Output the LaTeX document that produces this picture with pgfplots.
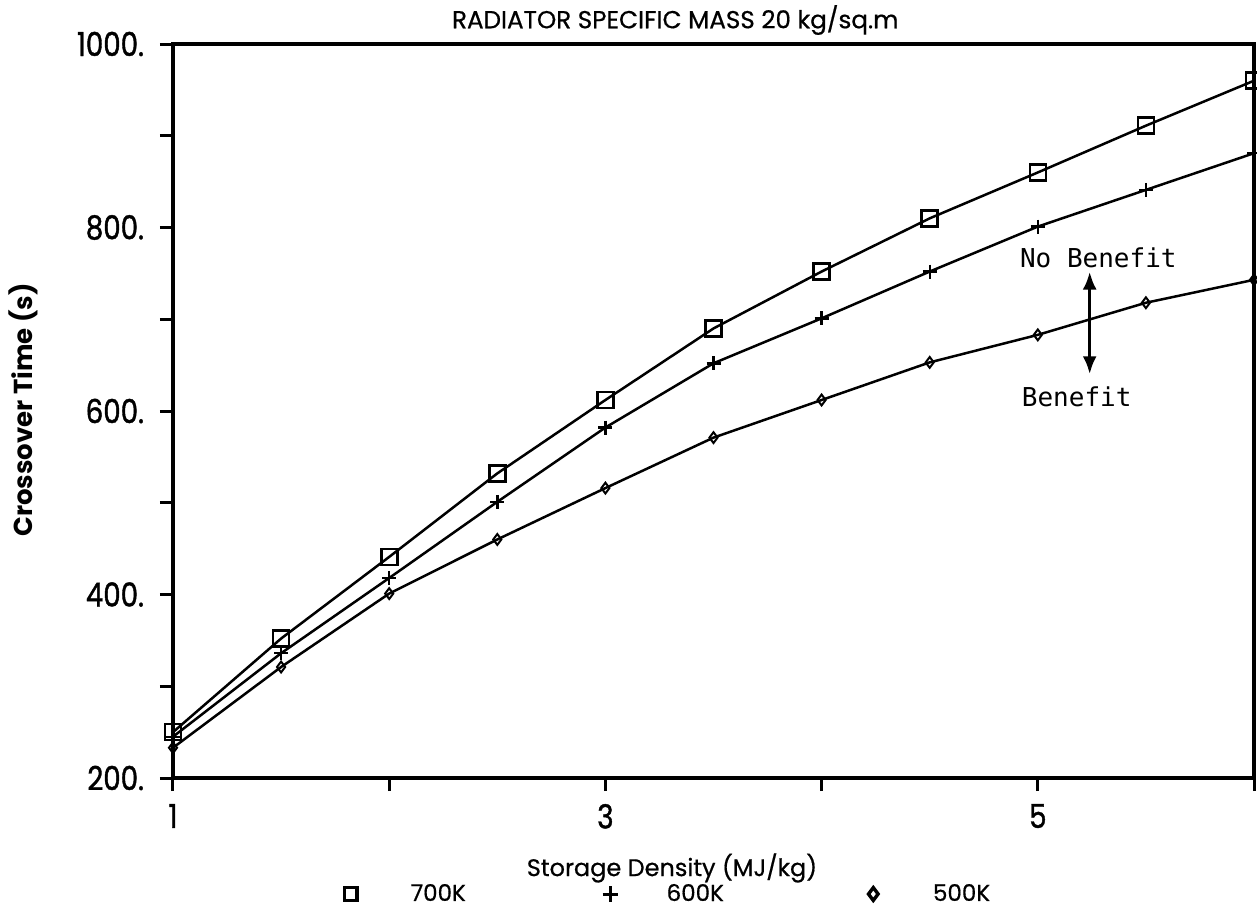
\documentclass[border=0pt]{standalone}
\usepackage{fontspec}
\usepackage{pgfplots}
\pgfplotsset{compat=1.18}
\usetikzlibrary{arrows.meta}
\setmainfont{Poppins}
\newfontfamily\tickfont{Poppins}[FakeStretch=0.84, FakeBold=1.2]
\newfontfamily\labelfont{Poppins}[FakeBold=0.6]
\newfontfamily\monofont{DejaVu Sans Mono}

\begin{document}
\begin{tikzpicture}[x=1pt,y=1pt]
\useasboundingbox (-86.5,-64.5) rectangle (542,389);
\begin{axis}[
  at={(0,0)}, anchor=south west, scale only axis,
  width=540.5pt, height=367pt,
  xmin=1, xmax=6, ymin=200, ymax=1000,
  axis line style={line width=1.6pt},
  xtick={1,2,3,4,5,6}, xticklabels={1,,3,,5,},
  ytick={200,300,...,1000}, yticklabels={200.,,400.,,600.,,800.,,1000.},
  tick align=outside, xtick pos=bottom, ytick pos=left,
  major tick length=6.5pt,
  tick style={line width=1.5pt, black},
  ticklabel style={font=\tickfont\fontsize{16.5}{16.5}\selectfont},
  yticklabel style={xshift=-4.5pt},
  xticklabel style={yshift=-3pt},
  /pgf/number format/assume math mode=true,
  clip=false,
  legend columns=3,
  legend image code/.code={\path (-8pt,0pt) (8pt,0pt); \draw[#1] plot coordinates {(0pt,0pt)};},
  legend style={draw=none, fill=none, inner sep=0pt, outer sep=0pt,
    nodes={inner sep=0pt, outer sep=0pt},
    font=\labelfont\fontsize{11.5}{12}\selectfont,
    at={(axis description cs:0,0)}, anchor=west, xshift=80pt, yshift=-58pt,
    /tikz/column sep=0pt},
]
\addlegendimage{only marks, mark=square, mark size=3.2pt, line width=1.8pt}
\addlegendentry{\makebox[112pt][l]{\hspace{21pt}700K}}
\addlegendimage{only marks, mark=+, mark size=3.8pt, line width=1.5pt}
\addlegendentry{\makebox[114pt][l]{\hspace{19.5pt}600K}}
\addlegendimage{only marks, mark=diamond, mark size=3.2pt, line width=1.7pt}
\addlegendentry{\hspace{21pt}500K}

\addplot[black, line width=1.25pt, mark=square, mark size=4pt, mark options={fill=white, line width=1.3pt}, forget plot] coordinates {
(1,250) (1.5,352) (2,441) (2.5,532) (3,612) (3.5,690) (4,752) (4.5,810) (5,860) (5.5,911) (6,960)};
\addplot[black, line width=1.25pt, mark=+, mark size=3.5pt, mark options={line width=1.2pt}, forget plot] coordinates {
(1,245) (1.5,336) (2,418) (2.5,501) (3,582) (3.5,652) (4,701) (4.5,752) (5,801) (5.5,841) (6,881)};
\addplot[black, line width=1.25pt, mark=diamond, mark size=2.7pt, mark options={fill=white, line width=1.0pt}, forget plot] coordinates {
(1,233) (1.5,321) (2,401) (2.5,460) (3,516) (3.5,571) (4,612) (4.5,653) (5,683) (5.5,718) (6,743)};

\node[font=\monofont\fontsize{13}{13}\selectfont] at (axis cs:5.28,767) {No Benefit};
\node[font=\monofont\fontsize{13}{13}\selectfont] at (axis cs:5.18,616) {Benefit};
\draw[{Latex[length=9pt,width=7pt]}-{Latex[length=9pt,width=7pt]}, line width=1.8pt] (axis cs:5.24,752) -- (axis cs:5.24,640);
\end{axis}
\node[anchor=west, font=\labelfont\fontsize{12.3}{13}\selectfont] at (136,379) {RADIATOR SPECIFIC MASS 20 kg/sq.m};
\node[font=\labelfont\fontsize{12}{13}\selectfont] at (249.5,-45) {Storage Density (MJ/kg)};
\node[rotate=90, font=\bfseries\fontsize{13}{14}\selectfont] at (-75,184) {Crossover Time (s)};
\end{tikzpicture}
\end{document}
